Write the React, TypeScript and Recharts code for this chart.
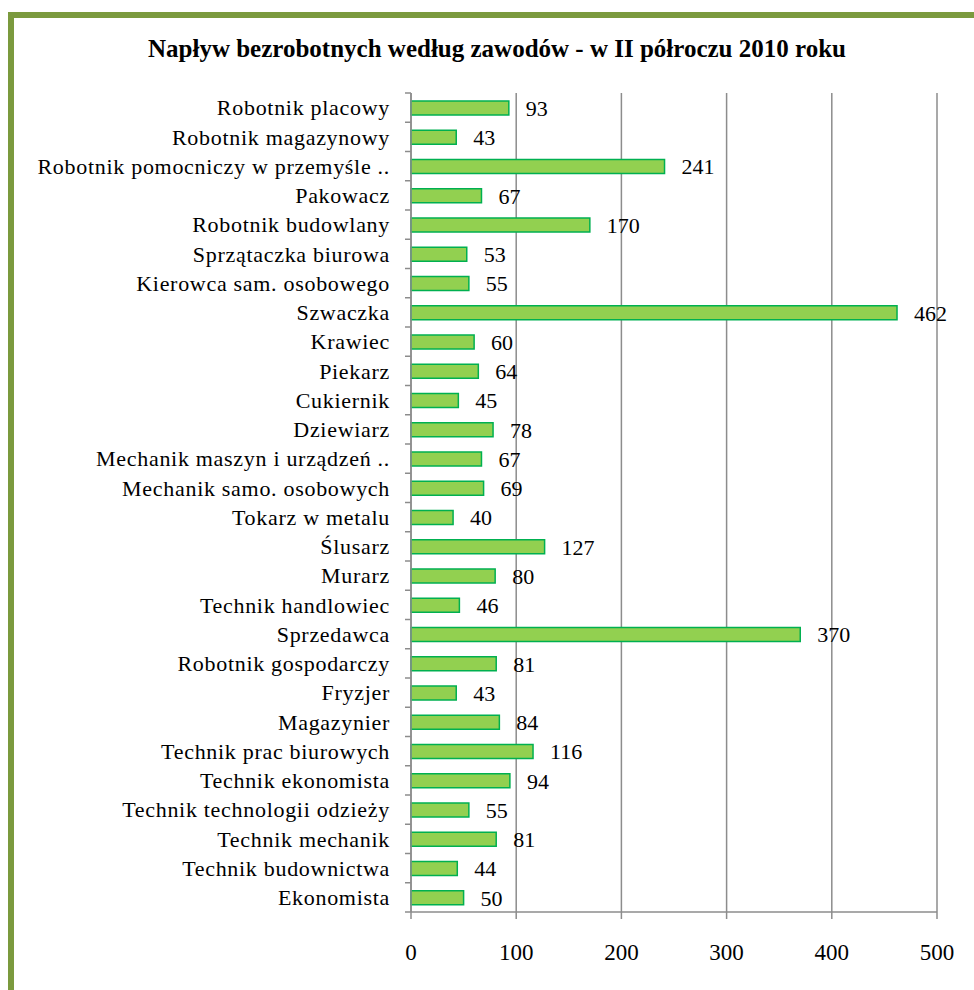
import React from "react";
import { BarChart, Bar, XAxis, YAxis, CartesianGrid, LabelList } from "recharts";

const CATEGORIES = [
  "Robotnik placowy",
  "Robotnik magazynowy",
  "Robotnik pomocniczy w przemyśle ..",
  "Pakowacz",
  "Robotnik budowlany",
  "Sprzątaczka biurowa",
  "Kierowca sam. osobowego",
  "Szwaczka",
  "Krawiec",
  "Piekarz",
  "Cukiernik",
  "Dziewiarz",
  "Mechanik maszyn i urządzeń ..",
  "Mechanik samo. osobowych",
  "Tokarz w metalu",
  "Ślusarz",
  "Murarz",
  "Technik handlowiec",
  "Sprzedawca",
  "Robotnik gospodarczy",
  "Fryzjer",
  "Magazynier",
  "Technik prac biurowych",
  "Technik ekonomista",
  "Technik technologii odzieży",
  "Technik mechanik",
  "Technik budownictwa",
  "Ekonomista",
];

const VALUES = [
  93, 43, 241, 67, 170, 53, 55, 462, 60, 64, 45, 78, 67, 69, 40, 127, 80, 46,
  370, 81, 43, 84, 116, 94, 55, 81, 44, 50,
];

const X_TICKS = [0, 100, 200, 300, 400, 500];

const TITLE = "Napływ bezrobotnych według zawodów - w II półroczu 2010 roku";

const data = CATEGORIES.map((name, i) => ({ name, value: VALUES[i] }));

const FONT = "Liberation Serif, Tinos, Times New Roman, DejaVu Serif, serif";
const GRID = "#8c8c8c";

const CHART_W = 974;
const CHART_H = 990;
const MARGIN = { top: 93, right: 37, bottom: 0, left: 0 };
const X_AXIS_H = 78;
const Y_AXIS_W = 411;
const BAND = (CHART_H - MARGIN.top - MARGIN.bottom - X_AXIS_H) / CATEGORIES.length;

const CategoryTick = (props: any) => {
  const { x, y, payload, index } = props;
  const axisX = Y_AXIS_W;
  return (
    <g>
      <line x1={axisX - 6} x2={axisX} y1={y - BAND / 2} y2={y - BAND / 2} stroke={GRID} strokeWidth={1.5} />
      {index === CATEGORIES.length - 1 && (
        <line x1={axisX - 6} x2={axisX} y1={y + BAND / 2} y2={y + BAND / 2} stroke={GRID} strokeWidth={1.5} />
      )}
      <text
        x={x}
        y={y}
        dy="0.35em"
        textAnchor="end"
        style={{ fontFamily: FONT, fontSize: 22, letterSpacing: 0.7 }}
        fill="#000"
      >
        {payload.value}
      </text>
    </g>
  );
};

export default function App() {
  return (
    <div
      style={{
        position: "absolute",
        left: 0,
        top: 0,
        width: CHART_W,
        height: CHART_H,
        overflow: "hidden",
        background: "#fff",
        fontFamily: FONT,
      }}
    >
      <div
        style={{
          position: "absolute",
          left: 8,
          top: 12,
          width: 1100,
          height: 1100,
          border: "6px solid #7b9a3e",
          boxSizing: "border-box",
        }}
      />
      <div
        style={{
          position: "absolute",
          left: 0,
          top: 34,
          width: 994,
          textAlign: "center",
          fontFamily: FONT,
          fontWeight: "bold",
          fontSize: 25,
          lineHeight: "30px",
          color: "#000",
        }}
      >
        {TITLE}
      </div>
      <div style={{ position: "absolute", left: 0, top: 0 }}>
        <BarChart
          width={CHART_W}
          height={CHART_H}
          data={data}
          layout="vertical"
          margin={MARGIN}
          barSize={14}
          style={{ fontFamily: FONT }}
        >
          <CartesianGrid horizontal={false} vertical stroke={GRID} strokeWidth={1.5} />
          <XAxis
            type="number"
            domain={[0, 500]}
            ticks={X_TICKS}
            height={X_AXIS_H}
            stroke={GRID}
            strokeWidth={1.5}
            tickSize={7}
            tickMargin={25}
            tick={{ fill: "#000", fontSize: 23, style: { fontFamily: FONT } }}
          />
          <YAxis
            type="category"
            dataKey="name"
            width={Y_AXIS_W}
            stroke={GRID}
            strokeWidth={1.5}
            tickLine={false}
            tickMargin={15}
            interval={0}
            tick={<CategoryTick />}
          />
          <Bar
            dataKey="value"
            fill="#92d050"
            stroke="#00b050"
            strokeWidth={1.5}
            isAnimationActive={false}
          >
            <LabelList
              dataKey="value"
              position="right"
              offset={17}
              fill="#000"
              fontSize={22}
              style={{ fontFamily: FONT }}
            />
          </Bar>
        </BarChart>
      </div>
    </div>
  );
}
